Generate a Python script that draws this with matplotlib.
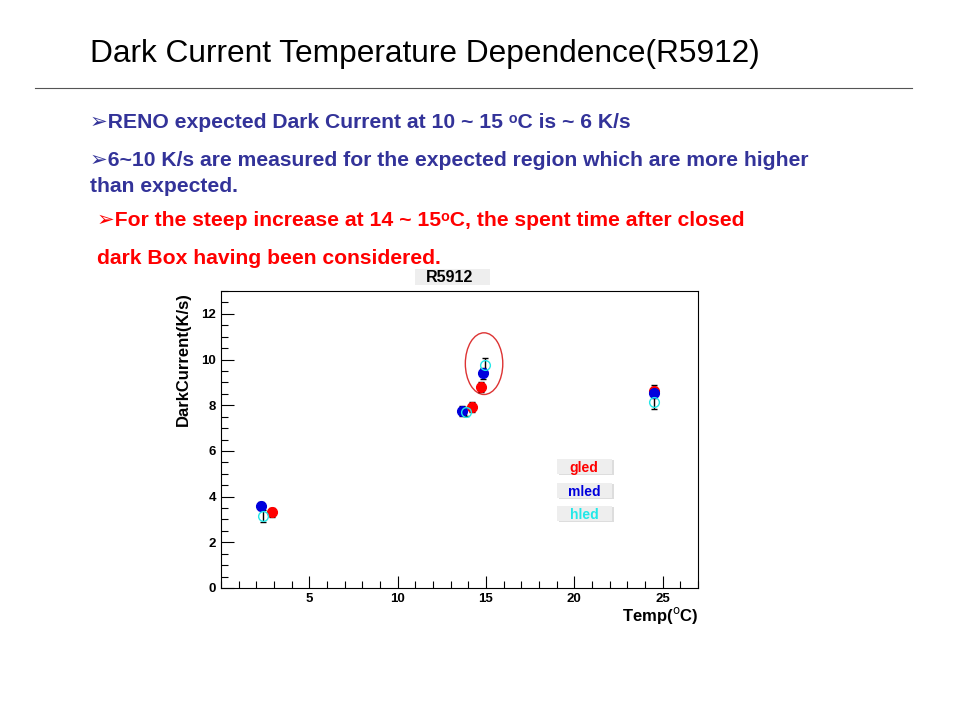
import matplotlib
matplotlib.use('Agg')
from matplotlib import pyplot as plt
from matplotlib.patches import Ellipse, Rectangle
from matplotlib.ticker import MultipleLocator
import numpy as np

plt.rcParams['font.family'] = ['Liberation Sans', 'DejaVu Sans']

# data: temperature (C) and dark current (K/s)
gled_t = [2.88, 14.18, 14.69, 24.52]
gled_c = [3.31, 7.93, 8.80, 8.64]
gled_e = [0.20, 0.22, 0.22, 0.25]

mled_t = [2.26, 13.65, 14.82, 24.52]
mled_c = [3.59, 7.75, 9.40, 8.55]
mled_e = [0.18, 0.20, 0.25, 0.25]

hled_t = [2.39, 13.88, 14.97, 24.52]
hled_c = [3.15, 7.72, 9.75, 8.12]
hled_e = [0.25, 0.20, 0.30, 0.30]

series_names = ['gled', 'mled', 'hled']
series_colors = ['#ff0000', '#0000dd', '#22e8e8']

W, H = 960, 720
fig = plt.figure(figsize=(9.6, 7.2), dpi=100)

# slide header
fig.text(90 / W, 1 - 54 / H, 'Dark Current Temperature Dependence(R5912)',
         fontsize=22.8, va='center', ha='left')
fig.add_artist(plt.Line2D([35 / W, 912 / W], [1 - 88 / H, 1 - 88 / H],
                          color='#555555', lw=0.8))

blue = '#333399'
bullets = [
    (90, 122, '➢RENO expected Dark Current at 10 ~ 15 ᵒC is ~ 6 K/s', blue),
    (90, 161, '➢6~10 K/s are measured for the expected region which are more higher', blue),
    (90, 187, 'than expected.', blue),
    (97, 221, '➢For the steep increase at 14 ~ 15ᵒC, the spent time after closed', '#ff0000'),
    (97, 258, 'dark Box having been considered.', '#ff0000'),
]
for x, y, s, c in bullets:
    fig.text(x / W, 1 - y / H, s, fontsize=15.2, fontweight='bold', color=c,
             va='center', ha='left')

ax = fig.add_axes([221 / W, 1 - 588 / H, 477 / W, 297 / H])

for t, c, e, name, col in zip([gled_t, mled_t, hled_t], [gled_c, mled_c, hled_c],
                              [gled_e, mled_e, hled_e], series_names, series_colors):
    face = 'none' if name == 'hled' else col
    ax.errorbar(t, c, yerr=e, fmt='o', ms=7, mfc=face, mec=col, mew=1,
                ecolor='black', elinewidth=1, capsize=2.5, capthick=1, zorder=3)

ax.set_xlim(0, 27)
ax.set_ylim(0, 13)
ax.xaxis.set_major_locator(MultipleLocator(5))
ax.xaxis.set_minor_locator(MultipleLocator(1))
ax.yaxis.set_major_locator(MultipleLocator(2))
ax.yaxis.set_minor_locator(MultipleLocator(0.5))
ax.tick_params(which='both', direction='in', top=False, right=False, width=0.8)
ax.tick_params(which='major', length=9, labelsize=9.5)
ax.tick_params(which='minor', length=5)
ax.set_xticks([5, 10, 15, 20, 25])
ax.set_xticklabels(['5', '10', '15', '20', '25'], fontweight='bold')
for lab in ax.get_yticklabels():
    lab.set_fontweight('bold')

fig.text(183 / W, 1 - 292 / H, 'DarkCurrent(K/s)', rotation=90, ha='center',
         va='top', fontsize=12, fontweight='bold')
fig.text(698 / W, 1 - 605 / H, 'Temp($^{\\rm o}$C)', ha='right', va='top',
         fontsize=12, fontweight='bold')

# highlight ellipse around the steep increase
ax.add_patch(Ellipse((14.89, 9.82), 2.12, 2.70, fill=False, ec='#dd3333', lw=1))

# legend boxes
for i, (name, col) in enumerate(zip(series_names, series_colors)):
    yc = 1 - (468 + i * 23.5) / H
    fig.add_artist(Rectangle((559 / W, yc - 7 / H), 55 / W, 15 / H,
                             transform=fig.transFigure, fc='#dddddd', ec='none'))
    fig.add_artist(Rectangle((557 / W, yc - 6 / H), 55 / W, 15 / H,
                             transform=fig.transFigure, fc='#eeeeee', ec='none'))
    fig.text(584 / W, yc, name, color=col, fontsize=10, fontweight='bold',
             ha='center', va='center')

fig.add_artist(Rectangle((415 / W, 1 - 285 / H), 75 / W, 16 / H,
                         transform=fig.transFigure, fc='#eeeeee', ec='none'))
fig.text(450 / W, 1 - 277 / H, 'R5912', ha='center', va='center',
         fontsize=11.5, fontweight='bold')

fig.savefig('out.png', dpi=100)
